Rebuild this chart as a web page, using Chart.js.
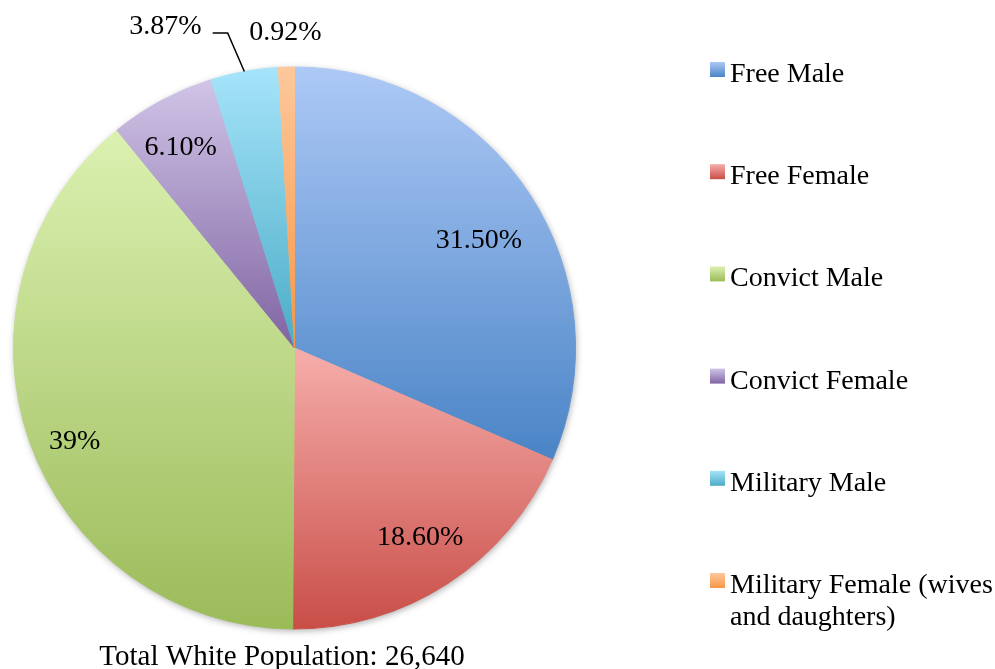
<!DOCTYPE html>
<html>
<head>
<meta charset="utf-8">
<title>White population by status</title>
<script src="https://cdn.jsdelivr.net/npm/chart.js@4.4.1/dist/chart.umd.min.js"></script>
<style>
  html, body { margin: 0; padding: 0; background: #fff; }
  #wrap { width: 995px; height: 669px; }
</style>
</head>
<body>
<div id="wrap"><canvas id="pie" width="995" height="669"></canvas></div>
<script>
'use strict';

const categories = ['Free Male', 'Free Female', 'Convict Male', 'Convict Female', 'Military Male', 'Military Female (wives and daughters)'];
const shares = [31.5, 18.6, 39, 6.1, 3.87, 0.92];
const shareLabels = ['31.50%', '18.60%', '39%', '6.10%', '3.87%', '0.92%'];
const caption = 'Total White Population: 26,640';

// each slice fades from the light tint (top) to the base colour (bottom)
const lightColors = ['#adc9f6', '#f6aeab', '#dbf1b1', '#d0c4e7', '#a6e4fa', '#fdc89b'];
const baseColors = ['#4a84c6', '#c94e48', '#9bbb59', '#8064a2', '#4bacc6', '#f79646'];

const SERIF = '"Liberation Serif", "Times New Roman", serif';

// where each value label goes: inside = fraction of radius, turn = degrees, outside = px past the rim
const labelPlacement = [
    { inside: 0.76, turn: 3 },
    { inside: 0.81, turn: -0.4 },
    { inside: 0.85, turn: -3.6 },
    { inside: 0.82, turn: -1.4 },
    { outside: 41, turn: -1.7, leader: true },
    { outside: 34, turn: 0 }
];

const TAU = Math.PI * 2;

function verticalExtent(cx, cy, r, a0, a1) {
    const ys = [cy, cy + r * Math.sin(a0), cy + r * Math.sin(a1)];
    let top = Math.min(...ys), bottom = Math.max(...ys);
    const contains = a => {
        let t = a;
        while (t < a0) t += TAU;
        return t <= a1;
    };
    if (contains(-Math.PI / 2)) top = cy - r;
    if (contains(Math.PI / 2)) bottom = cy + r;
    return [top, bottom];
}

const shadedSlices = {
    id: 'shadedSlices',
    beforeDatasetsDraw(chart) {
        const { ctx } = chart;
        const arcs = chart.getDatasetMeta(0).data;
        if (!arcs.length) return;
        const { x, y, outerRadius } = arcs[0].getProps(['x', 'y', 'outerRadius']);

        // soft drop shadow under the whole pie
        ctx.save();
        ctx.shadowColor = 'rgba(0,0,0,0.35)';
        ctx.shadowBlur = 7;
        ctx.shadowOffsetX = 1;
        ctx.shadowOffsetY = 2;
        ctx.fillStyle = '#fff';
        ctx.beginPath();
        ctx.arc(x, y, outerRadius - 0.5, 0, TAU);
        ctx.fill();
        ctx.restore();

        // same gradient on fill and hairline border so no seams show between slices
        arcs.forEach((arc, i) => {
            const p = arc.getProps(['x', 'y', 'startAngle', 'endAngle', 'outerRadius']);
            const [top, bottom] = verticalExtent(p.x, p.y, p.outerRadius, p.startAngle, p.endAngle);
            const g = ctx.createLinearGradient(0, top, 0, bottom);
            g.addColorStop(0, lightColors[i]);
            g.addColorStop(1, baseColors[i]);
            arc.options.backgroundColor = g;
            arc.options.borderColor = g;
        });
    }
};

const sliceLabels = {
    id: 'sliceLabels',
    afterDatasetsDraw(chart) {
        const { ctx } = chart;
        const arcs = chart.getDatasetMeta(0).data;
        ctx.save();
        ctx.font = '28px ' + SERIF;
        ctx.fillStyle = '#000';
        ctx.strokeStyle = '#000';
        ctx.lineWidth = 1.5;
        ctx.textBaseline = 'middle';
        arcs.forEach((arc, i) => {
            const p = arc.getProps(['x', 'y', 'startAngle', 'endAngle', 'outerRadius']);
            const place = labelPlacement[i];
            const mid = (p.startAngle + p.endAngle) / 2;
            const ang = mid + place.turn * Math.PI / 180;
            if (place.inside) {
                const r = p.outerRadius * place.inside;
                ctx.textAlign = 'center';
                ctx.fillText(shareLabels[i], p.x + r * Math.cos(ang), p.y + r * Math.sin(ang));
                return;
            }
            const r = p.outerRadius + place.outside;
            const ex = p.x + r * Math.cos(ang), ey = p.y + r * Math.sin(ang);
            if (place.leader) {
                const rimX = p.x + p.outerRadius * Math.cos(mid), rimY = p.y + p.outerRadius * Math.sin(mid);
                ctx.beginPath();
                ctx.moveTo(rimX, rimY);
                ctx.lineTo(ex, ey);
                ctx.lineTo(ex - 15, ey);
                ctx.stroke();
                ctx.textAlign = 'right';
                ctx.fillText(shareLabels[i], ex - 26, ey - 6);
            } else {
                ctx.textAlign = 'center';
                ctx.fillText(shareLabels[i], ex, ey);
            }
        });
        ctx.restore();
    }
};

function wrapText(ctx, text, maxWidth) {
    const words = text.split(' ');
    const lines = [];
    let line = '';
    words.forEach(w => {
        const test = line ? line + ' ' + w : w;
        if (line && ctx.measureText(test).width > maxWidth) {
            lines.push(line);
            line = w;
        } else {
            line = test;
        }
    });
    if (line) lines.push(line);
    return lines;
}

const sideLegend = {
    id: 'sideLegend',
    afterDraw(chart) {
        const { ctx } = chart;
        const labels = chart.data.labels;
        const boxX = 710, textX = 730, firstBase = 82, step = 102.2, lineGap = 32;
        ctx.save();
        ctx.font = '28px ' + SERIF;
        ctx.fillStyle = '#000';
        ctx.textAlign = 'left';
        ctx.textBaseline = 'alphabetic';
        labels.forEach((label, i) => {
            const base = firstBase + i * step;
            const g = ctx.createLinearGradient(0, base - 20, 0, base - 5);
            g.addColorStop(0, lightColors[i]);
            g.addColorStop(1, baseColors[i]);
            ctx.fillStyle = g;
            ctx.fillRect(boxX, base - 20, 15, 15);
            ctx.fillStyle = '#000';
            wrapText(ctx, label, chart.width - textX).forEach((ln, k) => {
                ctx.fillText(ln, textX, base + k * lineGap);
            });
        });

        // caption under the pie
        ctx.font = '29px ' + SERIF;
        ctx.textAlign = 'center';
        ctx.fillText(caption, 282, 665);
        ctx.restore();
    }
};

new Chart(document.getElementById('pie'), {
    type: 'pie',
    data: {
        labels: categories,
        datasets: [{
            data: shares,
            backgroundColor: c => baseColors[c.dataIndex],
            borderColor: c => baseColors[c.dataIndex],
            borderWidth: 1,
            hoverOffset: 0
        }]
    },
    options: {
        responsive: false,
        animation: false,
        devicePixelRatio: 1,
        events: [],
        layout: { padding: { top: 66.5, left: 0, right: 406, bottom: 39.5 } },
        plugins: {
            legend: { display: false },
            tooltip: { enabled: false }
        }
    },
    plugins: [shadedSlices, sliceLabels, sideLegend]
});
</script>
</body>
</html>
